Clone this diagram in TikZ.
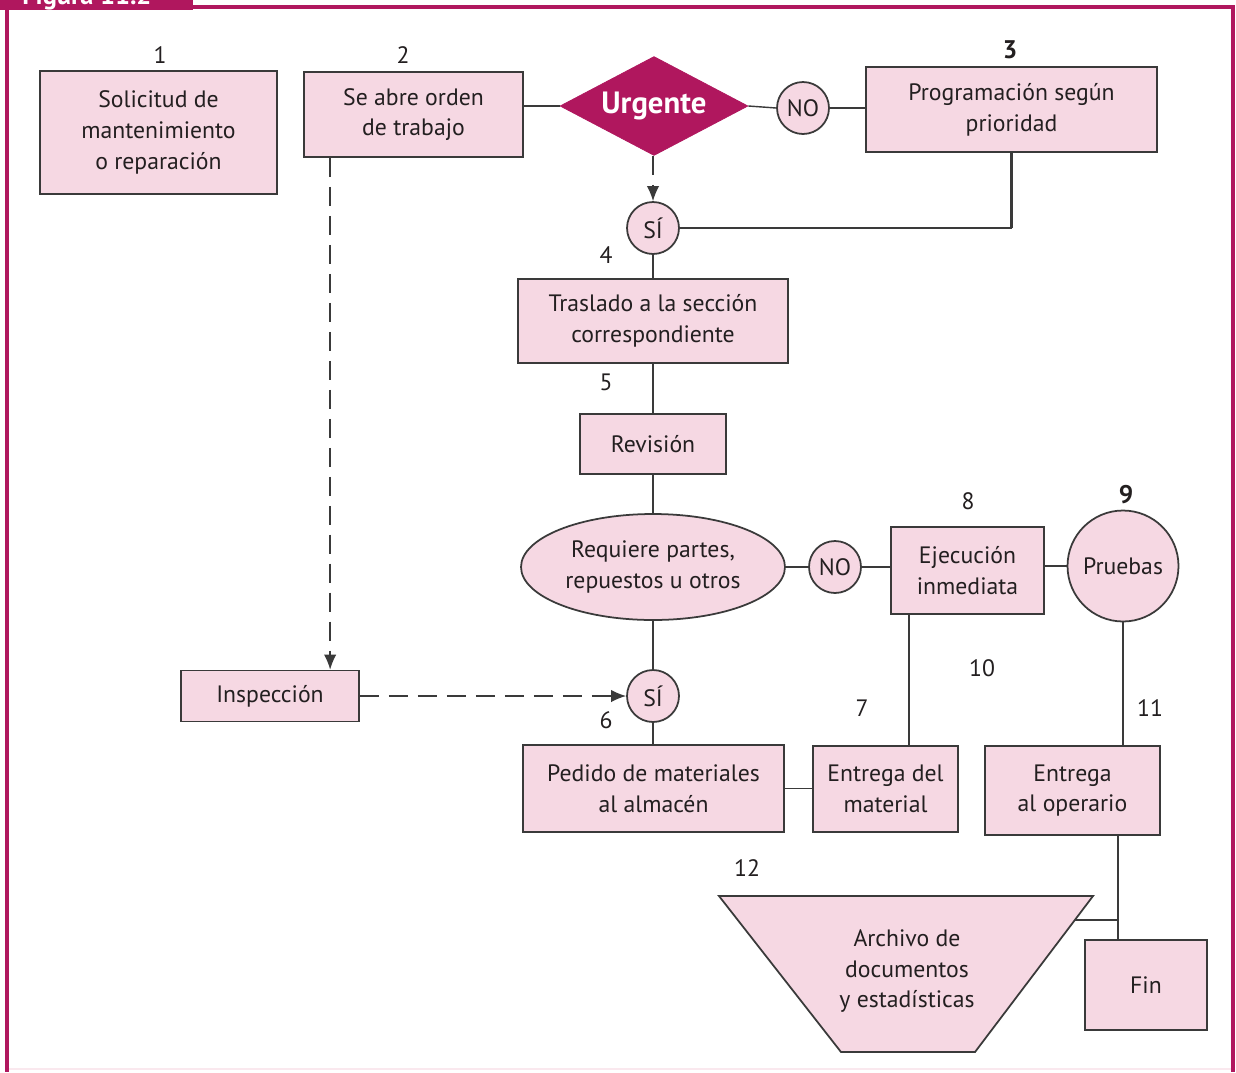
\documentclass[tikz,border=0pt]{standalone}
\usepackage{fontspec}
\setmainfont{PT Sans}
\usetikzlibrary{arrows.meta,shapes.geometric,calc}
\definecolor{mag}{HTML}{B0175E}
\definecolor{pinkf}{HTML}{F6D8E3}
\definecolor{edgec}{HTML}{3A3A3A}
\definecolor{ink}{HTML}{231F20}
\tikzset{
  box/.style={draw=edgec, line width=1pt, fill=pinkf, text=ink, align=center, inner sep=0pt,
    font=\fontsize{13.5}{17.5}\selectfont},
  circ/.style={circle, draw=edgec, line width=1pt, fill=pinkf, text=ink, inner sep=0pt, align=center,
    font=\fontsize{13.5}{17.5}\selectfont},
  num/.style={text=ink, inner sep=0pt, font=\fontsize{13.5}{16}\selectfont},
  conn/.style={draw=edgec, line width=0.8pt},
  dconn/.style={conn, dash pattern=on 11pt off 5.5pt, -{Latex[length=8.5pt,width=7pt]}},
}
\begin{document}
\begin{tikzpicture}[x=0.02cm,y=-0.02cm]
\useasboundingbox (0,0) rectangle (1236,1072);
\fill[white] (0,0) rectangle (1236,1072);
% frame
\fill[mag] (0,0) rectangle (193,10);
\begin{scope}
  \clip (0,0) rectangle (193,10);
  \node[anchor=base west, inner sep=0pt, text=white, font=\fontsize{15}{15}\selectfont\bfseries] (title) at (22,4) {Figura 11.2};
\end{scope}
\draw[mag, line width=2.3pt] (193,7) -- (1232.5,7) -- (1232.5,1072);
\draw[mag, line width=2.3pt] (7,10) -- (7,1072);
\draw[pinkf!60, line width=1pt] (9,1069) -- (1231,1069);

% nodes
\node[box, minimum width=4.74cm, minimum height=2.46cm] (n1) at (158.5,132.5) {Solicitud de\\mantenimiento\\o reparación};
\node[box, minimum width=4.38cm, minimum height=1.70cm] (n2) at (413.5,114.5) {Se abre orden\\de trabajo};
\node[diamond, fill=mag, draw=mag, inner sep=0pt, minimum width=3.76cm, minimum height=1.98cm, aspect=1.9,
  text=white, font=\fontsize{17.5}{17.5}\selectfont\bfseries] (dia) at (654,106) {Urgente};
\node[circ, minimum size=1.04cm] (no1) at (803,108) {NO};
\node[box, minimum width=5.82cm, minimum height=1.70cm] (n3) at (1011.5,109.5) {Programación según\\prioridad};
\node[circ, minimum size=1.04cm] (si1) at (653,228) {SÍ};
\node[box, minimum width=5.40cm, minimum height=1.68cm] (n4) at (653,321) {Traslado a la sección\\correspondiente};
\node[box, minimum width=2.92cm, minimum height=1.20cm] (n5) at (653,444) {Revisión};
\node[ellipse, draw=edgec, line width=1pt, fill=pinkf, text=ink, inner sep=0pt, align=center,
  font=\fontsize{13.5}{17.5}\selectfont, minimum width=5.28cm, minimum height=2.12cm] (ell) at (653,567) {Requiere partes,\\repuestos u otros};
\node[circ, minimum size=1.04cm] (no2) at (835,567) {NO};
\node[box, minimum width=3.06cm, minimum height=1.74cm] (n8) at (967.5,570.5) {Ejecución\\inmediata};
\node[circ, minimum size=2.22cm] (n9) at (1123,566) {Pruebas};
\node[circ, minimum size=1.04cm] (si2) at (653,696) {SÍ};
\node[box, minimum width=5.22cm, minimum height=1.74cm] (n6) at (653.5,788.5) {Pedido de materiales\\al almacén};
\node[box, minimum width=2.90cm, minimum height=1.72cm] (n7) at (885.5,789) {Entrega del\\material};
\node[box, minimum width=3.50cm, minimum height=1.78cm] (n11) at (1072.5,790.5) {Entrega\\al operario};
\node[box, minimum width=3.56cm, minimum height=1.02cm] (insp) at (270,696) {Inspección};
\node[box, minimum width=2.44cm, minimum height=1.80cm] (fin) at (1146,985) {Fin};
\filldraw[draw=edgec, fill=pinkf, line width=1pt] (719,896) -- (1093,896) -- (975,1052) -- (841,1052) -- cycle;
\node[text=ink, inner sep=0pt, align=center, font=\fontsize{13.5}{17.5}\selectfont] (trap) at (907,971) {Archivo de\\documentos\\y estadísticas};

% numbers
\node[num] (l1) at (160,55) {1};
\node[num] (l2) at (403,55) {2};
\node[num, font=\fontsize{14.5}{16}\selectfont\bfseries] (l3) at (1010,50) {3};
\node[num] (l4) at (606,255) {4};
\node[num] (l5) at (606,382) {5};
\node[num] (l6) at (606,720) {6};
\node[num] (l7) at (862,708) {7};
\node[num] (l8) at (968,501) {8};
\node[num, font=\fontsize{14.5}{16}\selectfont\bfseries] (l9) at (1126,495) {9};
\node[num] (l10) at (982,668) {10};
\node[num] (l11) at (1150,708) {11};
\node[num] (l12) at (747,868) {12};

% connectors
\draw[conn] (dia.west) -- (dia.west -| n2.east);
\draw[conn] (dia.east) -- (no1.west);
\draw[conn] (no1.east) -- (no1.east -| n3.west);
\draw[dconn] (dia.south -| si1.north) -- (si1.north);
\draw[draw=edgec, line width=1.3pt] (n3.south) -- (n3.south |- si1.east);
\draw[conn] (n3.south |- si1.east) -- (si1.east);
\draw[conn] (si1.south) -- (n4.north);
\draw[conn] (n4.south) -- (n5.north);
\draw[conn] (n5.south) -- (ell.north);
\draw[conn] (ell.east) -- (no2.west);
\draw[conn] (no2.east) -- (no2.east -| n8.west);
\draw[conn] (n9.west) -- (n9.west -| n8.east);
\draw[conn] (ell.south) -- (si2.north);
\draw[conn] (si2.south) -- (si2.south |- n6.north);
\draw[conn] (n6.east) -- (n6.east -| n7.west);
\coordinate (e8) at ($(n8.south west)+(19,0)$);
\draw[conn] (e8) -- (e8 |- n7.north);
\draw[conn] (n9.south) -- (n9.south |- n11.north);
\coordinate (e11) at ($(n11.south east)+(-43,0)$);
\draw[conn] (e11) -- (e11 |- fin.north);
\coordinate (tr) at (1075,920);
\draw[conn] (tr) -- (tr -| e11);
\coordinate (d2) at ($(n2.south west)+(27,0)$);
\draw[dconn] (d2) -- (d2 |- insp.north);
\draw[dconn] (insp.east) -- (si2.west);
\end{tikzpicture}
\end{document}
